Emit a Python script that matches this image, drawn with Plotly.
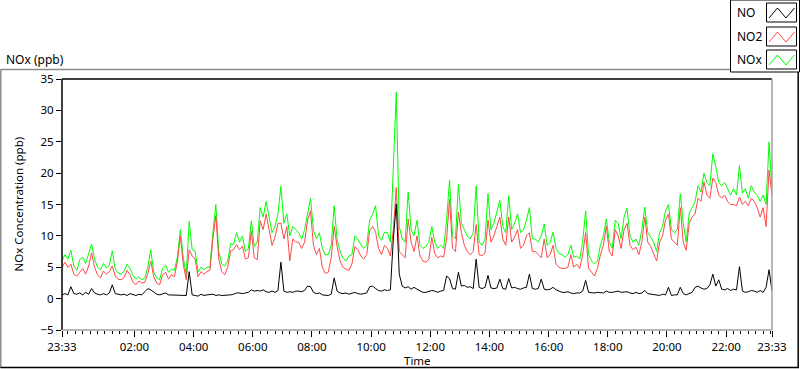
import pandas as pd
import plotly.graph_objects as go

# ---------------- data (6-minute samples from 23:33 to 23:33 next day) ----------------
start_time = "2016-01-01 23:33"
sample_minutes = 6

nox_ppb = [
    6.0, 7.0, 6.3, 7.7, 5.2, 4.5, 6.2, 6.6, 5.6, 7.0,
    8.7, 6.3, 5.0, 4.6, 5.6, 4.9, 5.3, 7.6, 4.7, 4.1,
    3.9, 4.4, 5.5, 4.8, 3.7, 3.1, 3.5, 3.0, 3.3, 5.0,
    7.8, 4.2, 3.3, 3.0, 4.8, 5.3, 4.2, 4.7, 4.5, 6.6,
    11.0, 6.5, 3.8, 12.3, 7.8, 7.6, 4.2, 5.0, 4.6, 5.0,
    5.0, 10.5, 15.0, 7.5, 5.5, 5.2, 6.0, 8.8, 8.6, 10.5,
    9.0, 10.0, 7.5, 8.0, 12.4, 8.3, 9.0, 14.5, 13.0, 15.5,
    13.0, 10.5, 11.5, 13.5, 17.9, 12.0, 13.5, 10.0, 11.5, 11.0,
    10.5, 9.5, 11.0, 13.5, 16.0, 11.0, 9.5, 10.5, 8.0, 7.0,
    7.0, 8.5, 14.8, 9.4, 7.5, 6.5, 6.0, 6.8, 7.0, 10.0,
    9.5, 8.6, 8.0, 8.5, 12.5, 13.5, 14.8, 10.0, 9.3, 10.6,
    10.5, 9.0, 21.0, 32.9, 11.5, 9.5, 9.0, 17.0, 11.0, 10.0,
    12.5, 8.5, 8.0, 8.3, 9.0, 11.5, 9.0, 8.0, 8.5, 8.0,
    12.5, 18.9, 10.0, 9.5, 18.2, 12.0, 11.0, 10.0, 9.5, 10.5,
    18.0, 9.0, 8.5, 9.5, 16.7, 11.0, 12.0, 14.0, 15.7, 11.5,
    10.5, 16.4, 11.0, 12.0, 13.5, 10.5, 11.0, 12.5, 14.5, 9.5,
    9.5, 9.0, 10.0, 11.9, 8.5, 9.0, 10.6, 8.0, 7.2, 7.0,
    6.6, 7.0, 8.5, 6.6, 6.8, 6.3, 9.0, 14.0, 7.0, 6.0,
    5.5, 6.0, 8.5, 10.0, 12.7, 9.0, 8.0, 12.5, 12.0, 9.5,
    13.0, 14.4, 10.0, 9.0, 9.5, 8.5, 11.0, 14.6, 10.5, 9.8,
    9.0, 7.5, 10.5, 11.5, 14.0, 15.0, 11.0, 10.5, 11.0, 16.7,
    12.0, 9.0, 13.5, 14.5, 15.5, 18.0, 17.0, 20.0, 18.5, 18.0,
    23.1, 21.0, 18.5, 18.0, 18.5, 17.5, 16.5, 17.5, 16.5, 21.2,
    16.8, 17.5, 16.0, 18.0, 17.0, 16.5, 15.5, 16.5, 15.0, 25.0,
    17.0,
]

no2_ppb = [
    5.0, 5.8, 5.0, 5.5, 3.9, 3.6, 4.2, 4.8, 3.9, 5.2,
    7.3, 5.0, 3.8, 3.3, 4.4, 3.9, 4.3, 5.2, 3.6, 3.1,
    3.0, 3.4, 4.5, 3.8, 2.6, 2.2, 2.8, 2.5, 2.6, 4.0,
    6.0, 3.5, 2.5, 2.2, 3.8, 4.2, 3.1, 3.8, 3.5, 5.9,
    10.0, 5.5, 3.0, 7.8, 6.8, 6.3, 3.5, 4.3, 3.9, 4.3,
    4.5, 9.5, 13.2, 6.3, 4.3, 3.8, 5.0, 7.6, 7.8, 8.6,
    7.8, 8.4, 6.3, 6.5, 10.8, 6.5, 6.2, 12.4, 11.0, 13.5,
    11.0, 8.5, 9.8, 12.0, 12.0, 9.5, 11.5, 6.0, 9.5, 9.0,
    9.0, 8.0, 9.0, 12.5, 14.0, 8.5, 7.0, 8.0, 5.0, 4.0,
    4.2, 6.5, 11.5, 8.3, 6.0, 5.0, 4.7, 4.5, 5.5, 8.3,
    7.8, 6.8, 6.3, 7.0, 10.8, 11.5, 10.6, 8.0, 7.0, 8.5,
    8.0, 6.8, 11.0, 17.7, 7.5, 7.0, 6.5, 12.7, 9.0, 7.5,
    10.0, 6.8, 6.0, 5.8, 6.3, 9.8, 7.2, 6.5, 6.8, 6.6,
    9.5, 15.8, 8.0, 7.5, 13.8, 10.5, 8.5, 7.5, 7.0, 7.5,
    11.8, 7.0, 6.8, 7.3, 12.5, 9.0, 10.0, 11.5, 13.0, 9.5,
    8.5, 13.0, 9.0, 9.8, 11.0, 8.0, 8.5, 10.0, 10.5, 7.5,
    7.5, 7.0, 6.5, 9.5, 6.5, 7.0, 8.5, 5.5, 5.0, 4.8,
    4.8, 5.0, 7.0, 5.0, 5.5, 4.8, 7.0, 10.5, 4.8, 4.2,
    3.6, 4.8, 7.0, 8.5, 11.5, 7.5, 6.8, 11.0, 10.0, 8.0,
    11.0, 12.0, 8.5, 7.8, 8.2, 7.0, 9.0, 13.0, 9.0, 8.3,
    7.0, 6.0, 9.0, 10.0, 12.5, 13.5, 9.5, 9.0, 8.5, 14.5,
    9.0, 7.7, 12.0, 13.0, 13.5, 16.0, 15.5, 18.6, 16.5, 16.0,
    19.2, 18.5, 16.5, 16.0, 16.5, 15.5, 15.0, 15.0, 14.8, 16.2,
    15.0, 15.5, 14.8, 16.0, 15.5, 14.5, 13.0, 14.5, 11.5, 20.5,
    16.5,
]

no_ppb = [
    0.6, 0.8, 0.6, 1.9, 0.8, 0.7, 0.9, 0.6, 1.0, 0.7,
    1.6, 0.9, 0.7, 0.6, 0.8, 0.6, 0.9, 2.2, 0.8, 0.7,
    0.6, 0.7, 0.5, 0.8, 0.6, 0.5, 0.7, 0.6, 1.1, 1.6,
    1.4, 1.0, 0.7, 0.6, 0.8, 0.9, 0.6, 0.6, 0.5, 0.6,
    0.5, 0.6, 0.5, 4.3, 0.6, 0.5, 0.4, 0.7, 0.5, 0.6,
    0.6, 0.7, 0.5, 0.6, 0.5, 0.5, 0.6, 0.6, 0.7, 0.9,
    0.9, 0.8, 0.9, 1.0, 1.4, 1.2, 1.3, 1.2, 1.4, 1.1,
    1.0, 1.2, 1.0, 1.3, 5.8, 1.2, 1.0, 1.1, 1.0, 1.2,
    1.2, 1.1, 1.3, 2.0, 1.9, 1.0, 0.8, 0.9, 0.6, 0.5,
    0.5, 0.7, 3.3, 1.2, 0.9, 0.8, 0.9, 0.7, 0.8, 1.0,
    0.8, 0.7, 0.8, 0.9, 1.9, 2.0, 1.6, 1.3, 1.2, 1.4,
    1.3, 1.4, 9.5, 15.1, 3.9, 2.0, 1.7, 1.9, 1.5, 1.8,
    1.5, 1.2, 1.0, 1.0, 1.1, 1.3, 1.2, 1.0, 1.2, 1.3,
    3.6, 3.2, 1.6, 1.5, 4.2, 2.0, 2.1, 1.8, 1.9, 1.6,
    6.3, 1.8, 1.6, 1.8, 3.7, 1.7, 1.6, 1.7, 3.1, 1.6,
    1.5, 3.2, 1.7, 1.8, 1.6, 1.5, 1.7, 1.8, 3.9, 1.6,
    1.5, 1.6, 3.1, 1.5, 1.4, 1.5, 1.8, 1.4, 1.2, 1.0,
    1.0, 1.1, 0.9, 0.8, 0.9, 0.9, 1.2, 2.9, 1.0, 0.9,
    0.9, 1.0, 1.0, 0.9, 1.2, 1.0, 1.0, 1.1, 1.2, 1.0,
    1.0, 1.1, 0.9, 0.8, 1.0, 0.8, 0.9, 1.3, 0.8, 0.7,
    0.6, 0.6, 0.5, 0.7, 0.6, 1.8, 0.5, 0.6, 0.6, 1.8,
    0.8, 0.6, 0.8, 1.0, 1.8, 2.0, 1.7, 1.5, 1.6, 2.2,
    3.9, 2.0, 3.0, 1.5, 1.4, 1.6, 1.3, 1.5, 1.4, 5.1,
    1.2, 1.0, 1.1, 1.3, 1.2, 1.0, 1.3, 1.0, 1.8, 4.6,
    1.2,
]

series_names = ["NO", "NO2", "NOx"]
x_tick_labels = ["23:33", "02:00", "04:00", "06:00", "08:00", "10:00", "12:00",
                 "14:00", "16:00", "18:00", "20:00", "22:00", "23:33"]
y_tick_values = [-5, 0, 5, 10, 15, 20, 25, 30, 35]

# ---------------- layout helpers ----------------
W, H = 800, 369
L, R, T, B = 62, 28, 79, 39
PW, PH = W - L - R, H - T - B
FONT = "Noto Sans"


def px(x):
    return (x - L) / PW


def py(y):
    return (H - B - y) / PH


times = pd.date_range(start_time, periods=len(nox_ppb), freq=f"{sample_minutes}min")
t0, t1 = times[0], times[-1]
tick_vals = [t0] + [pd.Timestamp(f"2016-01-02 {lab}") for lab in x_tick_labels[1:-1]] + [t1]

fig = go.Figure()
fig.add_trace(go.Scatter(x=times, y=nox_ppb, mode="lines", name=series_names[2],
                         line=dict(color="#00FF00", width=1)))
fig.add_trace(go.Scatter(x=times, y=no2_ppb, mode="lines", name=series_names[1],
                         line=dict(color="#FF4848", width=1)))
fig.add_trace(go.Scatter(x=times, y=no_ppb, mode="lines", name=series_names[0],
                         line=dict(color="#000000", width=1)))

shapes = []
# outer sunken frame
shapes.append(dict(type="line", xref="paper", yref="paper", x0=px(0.5), x1=px(731), y0=py(69.5), y1=py(69.5),
                   line=dict(color="#8c8c8c", width=1.5)))
shapes.append(dict(type="line", xref="paper", yref="paper", x0=px(0.8), x1=px(0.8), y0=py(69.5), y1=py(368),
                   line=dict(color="#8c8c8c", width=1.5)))
shapes.append(dict(type="line", xref="paper", yref="paper", x0=px(0.5), x1=px(799), y0=py(367.5), y1=py(367.5),
                   line=dict(color="#000000", width=1.5)))
shapes.append(dict(type="line", xref="paper", yref="paper", x0=px(798.2), x1=px(798.2), y0=py(72), y1=py(368),
                   line=dict(color="#000000", width=1.5)))
# plot box: top/left black, bottom/right gray
shapes.append(dict(type="line", xref="paper", yref="paper", x0=0, x1=1, y0=1, y1=1,
                   line=dict(color="#000000", width=1.5)))
shapes.append(dict(type="line", xref="paper", yref="paper", x0=0, x1=0, y0=0, y1=1,
                   line=dict(color="#000000", width=1.5)))
shapes.append(dict(type="line", xref="paper", yref="paper", x0=0, x1=1, y0=0, y1=0,
                   line=dict(color="#a0a0a0", width=1.5)))
shapes.append(dict(type="line", xref="paper", yref="paper", x0=1, x1=1, y0=0, y1=1,
                   line=dict(color="#a0a0a0", width=1.5)))
# legend box
shapes.append(dict(type="rect", xref="paper", yref="paper", x0=px(730.5), x1=px(799.5), y0=py(72), y1=py(0),
                   fillcolor="white", line=dict(color="#000000", width=1)))
legend_colors = ["#000000", "#FF4848", "#00FF00"]
legend_rows = [(3, 22), (27, 46), (50, 69)]
for (ya, yb), col in zip(legend_rows, legend_colors):
    shapes.append(dict(type="rect", xref="paper", yref="paper", x0=px(766.5), x1=px(796.5), y0=py(yb), y1=py(ya),
                       fillcolor="white", line=dict(color="#000000", width=1)))
    lo, hi = yb - 4, ya + 5
    pts = [(769, lo), (777.5, hi), (786, lo), (794.5, hi)]
    path = "M " + " L ".join(f"{px(a)},{py(b)}" for a, b in pts)
    shapes.append(dict(type="path", xref="paper", yref="paper", path=path,
                       line=dict(color=col, width=1)))

annotations = []
for name, (ya, yb) in zip(series_names, legend_rows):
    annotations.append(dict(text=name, xref="paper", yref="paper", x=px(735), y=py((ya + yb) / 2),
                            xanchor="left", yanchor="middle", showarrow=False,
                            font=dict(family=FONT, size=12, color="#000000")))
annotations.append(dict(text="NOx (ppb)", xref="paper", yref="paper", x=px(4), y=py(59),
                        xanchor="left", yanchor="middle", showarrow=False,
                        font=dict(family=FONT, size=12, color="#000000")))
annotations.append(dict(text="NOx Concentration (ppb)", xref="paper", yref="paper", x=px(18), y=0.5,
                        xanchor="center", yanchor="middle", textangle=-90, showarrow=False,
                        font=dict(family=FONT, size=11.5, color="#000000")))
annotations.append(dict(text="Time", xref="paper", yref="paper", x=px(417), y=py(360),
                        xanchor="center", yanchor="middle", showarrow=False,
                        font=dict(family=FONT, size=11.5, color="#000000")))

fig.update_layout(
    width=W, height=H,
    margin=dict(l=L, r=R, t=T, b=B, pad=0),
    paper_bgcolor="white", plot_bgcolor="white",
    showlegend=False,
    shapes=shapes, annotations=annotations,
    font=dict(family=FONT, size=11, color="#000000"),
    xaxis=dict(
        type="date", range=[t0, t1], showgrid=False, zeroline=False, showline=False,
        tickmode="array", tickvals=tick_vals, ticktext=x_tick_labels,
        ticks="outside", ticklen=6, tickcolor="#000000", tickwidth=1,
        tickfont=dict(family=FONT, size=11.5, color="#000000"),
        minor=dict(tickmode="linear", tick0="2016-01-02 00:00", dtick=15 * 60 * 1000,
                   ticks="outside", ticklen=3, tickcolor="#000000", tickwidth=1, showgrid=False),
    ),
    yaxis=dict(
        range=[-5, 35], showgrid=False, zeroline=False, showline=False,
        tickmode="array", tickvals=y_tick_values,
        ticks="outside", ticklen=5, tickcolor="#000000", tickwidth=1,
        tickfont=dict(family=FONT, size=11.5, color="#000000"),
    ),
)

fig.write_html(
    "out.html",
    config={"displayModeBar": False},
    post_script="document.body.style.margin='0';document.body.style.overflow='hidden';",
)
